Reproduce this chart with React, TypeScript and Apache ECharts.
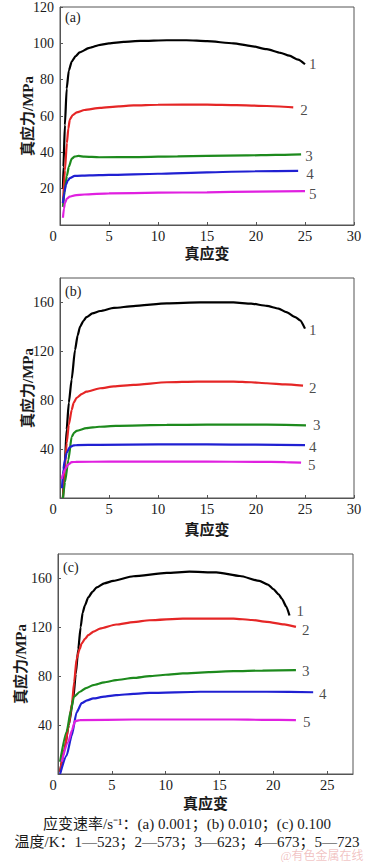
import React, { useEffect, useRef } from "react";
import * as echarts from "echarts";

// ---------- data ----------
const panelNames = ["(a)", "(b)", "(c)"];
const curveNames = ["1", "2", "3", "4", "5"];
const curveColors = ["#000000", "#e52626", "#1d8a1d", "#2020d2", "#e020e0"];

// panel (a): strain rate 0.001 s^-1
const a1 = [[0.3, 20], [0.35, 32], [0.5, 55], [0.68, 75], [0.9, 85], [1.2, 90], [1.6, 93], [2.0, 95], [3, 97.5], [4.1, 99.2], [5, 100], [6.5, 100.8], [8.2, 101.3], [10.9, 101.7], [12.9, 101.7], [15, 101.2], [17.7, 100], [19.5, 98.5], [21.1, 96.8], [22.5, 94.8], [23.4, 93.2], [24.3, 91], [25, 88.5]];
const a2 = [[0.3, 12], [0.5, 30], [0.7, 45], [0.85, 53], [1.0, 58], [1.3, 60.5], [1.7, 62], [2.5, 63.3], [4.1, 64.5], [6, 65.3], [7.5, 65.8], [10, 66.2], [15, 66.3], [18, 66], [21.1, 65.5], [23.8, 64.8]];
const a3 = [[0.3, 10], [0.5, 20], [0.7, 27], [0.9, 32], [1.2, 36.5], [1.5, 37.7], [1.9, 38], [2.5, 37.6], [4, 37.3], [8, 37.4], [12, 37.8], [15, 38], [19, 38.3], [22, 38.6], [24.6, 38.9]];
const a4 = [[0.3, 12], [0.45, 18], [0.6, 22], [0.8, 24.5], [1.0, 25.8], [1.5, 27], [3, 27.3], [5, 27.6], [10, 28.2], [15, 29], [20, 29.6], [24.3, 29.8]];
const a5 = [[0.3, 4], [0.4, 9], [0.5, 12], [0.7, 14.5], [1.0, 15.6], [1.5, 16.3], [2.5, 16.8], [5, 17.4], [10, 17.8], [15, 18], [20, 18.4], [25, 18.6]];
const aLabels = [[25.8, 88.5], [24.9, 63.5], [25.4, 38], [25.5, 28.2], [25.8, 16.8]];

// panel (b): strain rate 0.010 s^-1
const b1 = [[0.3, 0], [0.5, 30], [0.68, 56], [0.9, 78], [1.19, 97], [1.53, 121], [1.8, 133], [2.04, 140], [2.4, 145], [2.7, 148], [3.3, 151], [4.1, 153], [5.5, 155.5], [7.5, 157], [10.9, 159.3], [14.3, 160], [17.7, 160], [19.5, 159], [21.1, 157.2], [22.3, 155], [23.1, 152], [24, 148], [24.5, 145.4], [25, 138.6]];
const b2 = [[0.3, 0], [0.5, 25], [0.68, 45], [0.9, 60], [1.19, 72], [1.4, 78], [1.7, 82], [2.2, 85], [2.7, 87], [4.1, 89.8], [5.5, 91.3], [7.5, 92.5], [10.9, 94.7], [14, 95.2], [17.7, 95.2], [19.5, 94.7], [21.1, 93.9], [23, 93], [24.8, 92]];
const b3 = [[0.3, 0], [0.51, 13], [0.85, 31], [1.19, 50], [1.45, 53.5], [1.7, 55], [2.7, 57.2], [4, 58.3], [5.7, 59], [10.9, 59.8], [15, 60], [21.1, 60], [25.1, 59.5]];
const b4 = [[0.2, 8], [0.34, 23.5], [0.5, 31], [0.68, 37], [1.0, 41.7], [1.4, 43], [1.7, 43.3], [4.1, 43.5], [10, 43.8], [15, 43.8], [20, 43.6], [25, 43.2]];
const b5 = [[0.17, 15.5], [0.34, 20], [0.51, 23.5], [0.85, 27.5], [1.19, 29.3], [1.6, 29.6], [5, 29.7], [10, 29.7], [15, 29.7], [20, 29.6], [23, 29.4], [24.6, 28.9]];
const bLabels = [[25.8, 137.4], [25.8, 90], [26.2, 59.8], [25.8, 41.9], [25.7, 27.2]];

// panel (c): strain rate 0.100 s^-1
const c1 = [[0.19, 1.5], [0.6, 20], [1.0, 40], [1.42, 61.8], [1.65, 82], [1.88, 102], [2.1, 120], [2.29, 132], [2.5, 138], [2.81, 144.5], [3.2, 149], [3.59, 152.7], [4.3, 156], [5.13, 158], [7, 161.8], [10.1, 164.5], [12.2, 165.5], [14.7, 165], [16.9, 162], [18.7, 158], [19.5, 155], [20, 151.3], [20.5, 147], [20.8, 143.3], [21.2, 137], [21.5, 129.7]];
const c2 = [[0.19, 1.5], [0.6, 20], [1.0, 40], [1.3, 58], [1.5, 75], [1.73, 94.4], [2.0, 102], [2.2, 106.8], [2.5, 110.5], [2.81, 113.6], [3.3, 116.5], [3.9, 119], [5.4, 122.3], [7, 124.3], [8.5, 125.8], [11.6, 127.2], [16.3, 127.2], [18, 126], [19.4, 124.5], [21, 122.5], [22.1, 120.4]];
const c3 = [[0.19, 10], [0.8, 34.6], [1.2, 52], [1.48, 63.2], [2.04, 67.3], [2.6, 70.3], [3.27, 72.7], [4.3, 75], [5.4, 76.8], [7, 78.6], [8.5, 80], [10, 81.2], [11.6, 82.3], [14, 83.3], [16.3, 84.1], [19, 84.6], [22.1, 85]];
const c4 = [[0.19, 0], [0.8, 15], [1.27, 31.4], [1.73, 50.5], [2.2, 58], [2.7, 60.3], [3.27, 61.8], [4.3, 63.3], [5.4, 64.5], [7, 65.6], [8.5, 66.4], [13.2, 67.3], [19.4, 67.3], [23.7, 66.9]];
const c5 = [[0.34, 10], [0.96, 26.4], [1.3, 36], [1.58, 43.3], [2.04, 44.1], [7, 44.6], [16.3, 44.6], [19, 44.3], [22.1, 44.1]];
const cLabels = [[22.5, 133.3], [23, 117.5], [23, 84.4], [24.6, 65.4], [23.1, 42.2]];

const panelCurves = [[a1, a2, a3, a4, a5], [b1, b2, b3, b4, b5], [c1, c2, c3, c4, c5]];
const panelLabels = [aLabels, bLabels, cLabels];

const xMax = [30, 30, 27.4];
const xInterval = 5;
const yMax = [120, 180, 180];
const yInterval = [20, 40, 40];
const yShowMax = [true, false, false];

const xTitle = "真应变";
const yTitle = "真应力/MPa";
const footer1 = "应变速率/s⁻¹：(a) 0.001；(b) 0.010；(c) 0.100";
const footer2 = "温度/K：1—523；2—573；3—623；4—673；5—723";
const watermark = "@有色金属在线";

// ---------- layout ----------
const grids = [
  { left: 60, top: 4, width: 294, height: 221 },
  { left: 60, top: 278, width: 294, height: 220 },
  { left: 58, top: 554, width: 295, height: 220 },
];
const zeroShift = [14, 14, 10];
const yNameGap = [25, 25, 30];
const xNameGap = [21, 24, 22];

const serif = "Liberation Serif, Noto Sans CJK SC, serif";
const axisColor = "#555";
const textColor = "#1a1a1a";

export default function App() {
  const ref = useRef<HTMLDivElement>(null);
  useEffect(() => {
    if (!ref.current) return;
    const chart = echarts.init(ref.current, null, { renderer: "svg" });

    const xAxis: any[] = [];
    const yAxis: any[] = [];
    const series: any[] = [];
    const graphic: any[] = [];

    grids.forEach((g, i) => {
      xAxis.push({
        type: "value",
        gridIndex: i,
        min: 0,
        max: xMax[i],
        interval: xInterval,
        name: xTitle,
        nameLocation: "middle",
        nameGap: xNameGap[i],
        nameMoveOverlap: false,
        nameTextStyle: { fontFamily: serif, fontSize: 15, fontWeight: "bold", color: textColor },
        axisLine: { show: true, lineStyle: { color: axisColor, width: 1 } },
        axisTick: { show: true, inside: true, length: 3, lineStyle: { color: axisColor } },
        splitLine: { show: false },
        axisLabel: {
          showMaxLabel: xMax[i] % xInterval === 0,
          margin: 4,
          fontFamily: serif,
          fontSize: 14.5,
          color: textColor,
          formatter: (v: number) => (v === 0 ? "{z|0}" : String(v)),
          rich: { z: { fontFamily: serif, fontSize: 14.5, color: textColor, padding: [0, zeroShift[i], 0, 0] } },
        },
      });
      yAxis.push({
        type: "value",
        gridIndex: i,
        min: 0,
        max: yMax[i],
        interval: yInterval[i],
        name: yTitle,
        nameLocation: "middle",
        nameGap: yNameGap[i],
        nameMoveOverlap: false,
        nameTextStyle: { fontFamily: serif, fontSize: 15, fontWeight: "bold", color: textColor },
        axisLine: { show: true, lineStyle: { color: axisColor, width: 1 } },
        axisTick: { show: true, inside: true, length: 3, lineStyle: { color: axisColor } },
        splitLine: { show: false },
        axisLabel: {
          showMinLabel: false,
          showMaxLabel: yShowMax[i],
          margin: 6,
          fontFamily: serif,
          fontSize: 14,
          color: textColor,
        },
      });

      panelCurves[i].forEach((data, k) => {
        series.push({
          type: "line",
          xAxisIndex: i,
          yAxisIndex: i,
          data,
          showSymbol: false,
          smooth: 0.2,
          smoothMonotone: "x",
          lineStyle: { color: curveColors[k], width: 2.2 },
          itemStyle: { color: curveColors[k] },
          silent: true,
        });
      });

      series.push({
        type: "scatter",
        xAxisIndex: i,
        yAxisIndex: i,
        symbolSize: 1,
        itemStyle: { color: "rgba(0,0,0,0)" },
        data: panelLabels[i].map((p, k) => [p[0], p[1], curveNames[k]]),
        label: {
          show: true,
          position: "inside",
          formatter: (p: any) => p.value[2],
          fontFamily: serif,
          fontSize: 15,
          color: textColor,
        },
        silent: true,
      });

      graphic.push({
        type: "text",
        left: g.left + 5,
        top: g.top + 6,
        style: { text: panelNames[i], font: `14px ${serif}`, fill: textColor },
      });
    });

    graphic.push({
      type: "text",
      x: 187,
      y: 824,
      style: { text: footer1, font: `15px ${serif}`, fill: textColor, textAlign: "center", textVerticalAlign: "middle" },
    });
    graphic.push({
      type: "text",
      x: 187,
      y: 842,
      style: { text: footer2, font: `15px ${serif}`, fill: textColor, textAlign: "center", textVerticalAlign: "middle" },
    });
    graphic.push({
      type: "text",
      x: 322,
      y: 856,
      style: { text: watermark, font: `12px ${serif}`, fill: "rgba(225,120,120,0.45)", textAlign: "center", textVerticalAlign: "middle" },
    });

    chart.setOption({
      animation: false,
      backgroundColor: "#ffffff",
      grid: grids.map((g) => ({ ...g, show: true, borderColor: axisColor, borderWidth: 1, backgroundColor: "transparent" })),
      xAxis,
      yAxis,
      series,
      graphic,
    });
    return () => chart.dispose();
  }, []);
  return (
    <div
      ref={ref}
      style={{ position: "absolute", left: 0, top: 0, width: 372, height: 862, background: "#fff" }}
    />
  );
}
